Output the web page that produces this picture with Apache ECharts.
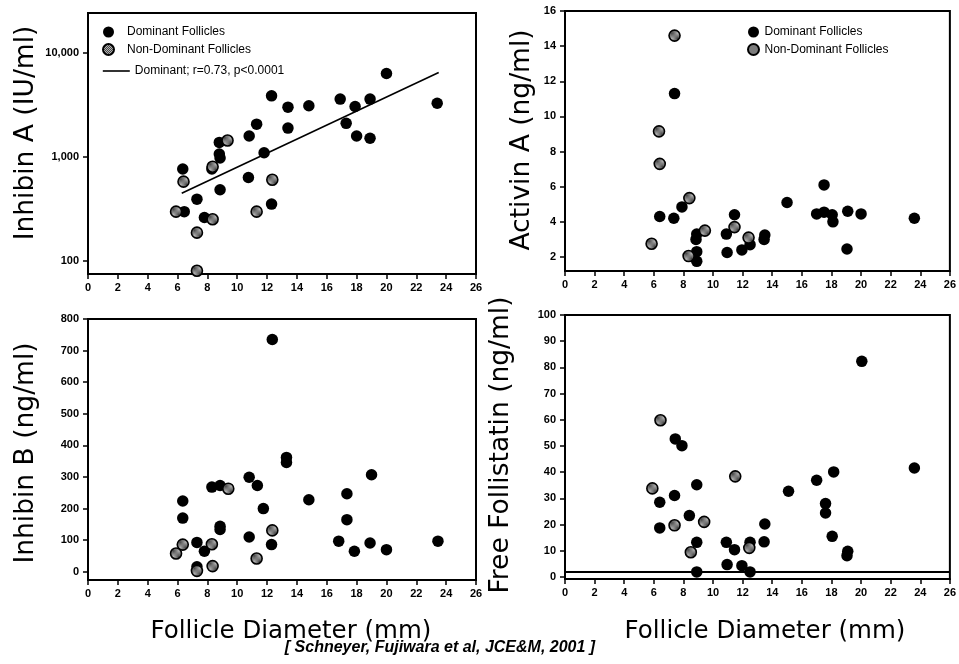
<!DOCTYPE html>
<html>
<head>
<meta charset="utf-8">
<script src="https://cdn.jsdelivr.net/npm/echarts@6/dist/echarts.min.js"></script>
<style>
  html, body { margin: 0; padding: 0; background: #fff; }
  #chart { width: 959px; height: 664px; }
</style>
</head>
<body>
<div id="chart"></div>
<script>
// Follicle diameter (mm) vs. hormone concentration, one panel per hormone.
// Each point: [diameter, concentration]

const diameterTicks = [0, 2, 4, 6, 8, 10, 12, 14, 16, 18, 20, 22, 24, 26];

// Inhibin A (IU/ml), log scale
const inhibinATicks = [100, 1000, 10000];
const inhibinADominant = [
  [20.0, 6300], [12.3, 3840], [13.4, 2990], [14.8, 3080], [16.9, 3570], [17.9, 3030],
  [18.9, 3570], [23.4, 3260], [11.3, 2050], [13.4, 1880], [17.3, 2090], [10.8, 1580],
  [18.0, 1580], [18.9, 1500], [8.8, 1370], [11.8, 1090], [8.8, 1060], [8.85, 970],
  [6.35, 760], [8.3, 760], [10.75, 630], [8.85, 480], [7.3, 390], [6.45, 296],
  [12.3, 350], [7.8, 260]
];
const inhibinANonDominant = [
  [9.35, 1430], [8.35, 800], [6.4, 575], [12.35, 600], [5.9, 296], [11.3, 296],
  [8.35, 250], [7.3, 186], [7.3, 80]
];
// regression of the dominant follicles (straight in log space)
const inhibinAFit = [[6.28, 445], [23.5, 6430]];

// Activin A (ng/ml)
const activinTicks = [2, 4, 6, 8, 10, 12, 14, 16];
const activinDominant = [
  [7.4, 11.3], [17.5, 6.1], [15.0, 5.1], [7.9, 4.85], [6.4, 4.3], [7.35, 4.2],
  [11.45, 4.4], [17.0, 4.45], [17.5, 4.55], [18.05, 4.4], [18.1, 4.0], [19.1, 4.6],
  [20.0, 4.45], [23.6, 4.2], [8.9, 3.3], [8.85, 3.0], [10.9, 3.3], [12.5, 2.7],
  [13.5, 3.25], [13.45, 3.0], [11.95, 2.4], [10.95, 2.25], [8.9, 2.3], [8.9, 1.75],
  [19.05, 2.45]
];
const activinNonDominant = [
  [7.4, 14.6], [6.35, 9.15], [6.4, 7.3], [8.4, 5.35], [11.45, 3.7], [9.45, 3.5],
  [12.4, 3.1], [5.85, 2.75], [8.35, 2.05]
];

// Inhibin B (ng/ml)
const inhibinBTicks = [0, 100, 200, 300, 400, 500, 600, 700, 800];
const inhibinBDominant = [
  [12.35, 735], [13.3, 362], [13.3, 346], [19.0, 307], [10.8, 299], [11.35, 273],
  [8.3, 268], [8.85, 273], [17.35, 247], [14.8, 228], [6.35, 224], [11.75, 200],
  [6.35, 170], [17.35, 165], [8.85, 144], [8.85, 134], [10.8, 110], [16.8, 97],
  [23.45, 97], [7.3, 93], [12.3, 86], [18.9, 91], [20.0, 70], [17.85, 65],
  [7.8, 65], [7.3, 16]
];
const inhibinBNonDominant = [
  [9.4, 263], [12.35, 131], [8.3, 87], [6.35, 86], [5.9, 58], [11.3, 42],
  [7.3, 3], [8.35, 18]
];

// Free follistatin (ng/ml)
const follistatinTicks = [0, 10, 20, 30, 40, 50, 60, 70, 80, 90, 100];
const follistatinDominant = [
  [20.05, 82.3], [7.45, 52.7], [7.9, 50.1], [23.6, 41.6], [18.15, 40.1], [17.0, 36.9],
  [8.9, 35.2], [15.1, 32.7], [7.4, 31.1], [6.4, 28.5], [17.6, 28.0], [17.6, 24.4],
  [8.4, 23.4], [13.5, 20.2], [6.4, 18.7], [18.05, 15.5], [8.9, 13.2], [10.9, 13.2],
  [12.5, 13.2], [13.45, 13.4], [11.45, 10.4], [19.1, 9.8], [19.05, 8.1], [10.95, 4.7],
  [11.95, 4.3], [8.9, 1.9], [12.5, 1.9]
];
const follistatinNonDominant = [
  [6.45, 59.8], [11.5, 38.4], [5.9, 33.8], [9.4, 21.0], [7.4, 19.7], [12.45, 11.1],
  [8.5, 9.4]
];
const follistatinAssayLimit = 2;

const DOMINANT = 'Dominant Follicles';
const NON_DOMINANT = 'Non-Dominant Follicles';
const FIT = 'Dominant; r=0.73, p<0.0001';

// fine grey checker fill for the non-dominant markers
function hatchFill() {
  const c = document.createElement('canvas');
  c.width = 2; c.height = 2;
  const g = c.getContext('2d');
  g.fillStyle = '#b4b4b4'; g.fillRect(0, 0, 2, 2);
  g.fillStyle = '#444444'; g.fillRect(0, 0, 1, 1); g.fillRect(1, 1, 1, 1);
  return { image: c, repeat: 'repeat' };
}
const hatch = hatchFill();

const tickFont = { color: '#000', fontFamily: 'Liberation Sans', fontWeight: 'bold', fontSize: 11 };

function xAxis(gridIndex) {
  return {
    type: 'value', gridIndex, min: 0, max: 26,
    axisLine: { show: true, onZero: false, lineStyle: { color: '#000', width: 2 } },
    axisTick: { show: true, length: 5, customValues: diameterTicks, lineStyle: { color: '#000', width: 1.5 } },
    axisLabel: Object.assign({ customValues: diameterTicks, margin: 8 }, tickFont),
    splitLine: { show: false }
  };
}

function yAxis(gridIndex, type, min, max, ticks, formatter) {
  const ax = {
    type, gridIndex, min, max,
    axisLine: { show: true, onZero: false, lineStyle: { color: '#000', width: 2 } },
    axisTick: { show: true, length: 5, customValues: ticks, lineStyle: { color: '#000', width: 1.5 } },
    axisLabel: Object.assign({ customValues: ticks, margin: 9 }, tickFont),
    splitLine: { show: false }
  };
  if (type === 'log') ax.logBase = 10;
  if (formatter) ax.axisLabel.formatter = formatter;
  return ax;
}

function dominant(i, data) {
  return {
    name: DOMINANT, type: 'scatter', xAxisIndex: i, yAxisIndex: i, data,
    symbol: 'circle', symbolSize: 11.5,
    itemStyle: { color: '#000', opacity: 1 }, z: 3
  };
}
function nonDominant(i, data) {
  return {
    name: NON_DOMINANT, type: 'scatter', xAxisIndex: i, yAxisIndex: i, data,
    symbol: 'circle', symbolSize: 11,
    itemStyle: { color: hatch, borderColor: '#000', borderWidth: 1.6, opacity: 1 }, z: 4
  };
}

const gridBox = { show: true, borderColor: '#000', borderWidth: 2, backgroundColor: 'transparent' };

function vTitle(text, x, y) {
  return {
    type: 'text', x, y, rotation: Math.PI / 2,
    style: { text, font: 'normal 26.5px "DejaVu Sans"', fill: '#000', align: 'center', verticalAlign: 'middle' }
  };
}
function hTitle(text, x, y) {
  return {
    type: 'text', x, y,
    style: { text, font: 'normal 24.5px "DejaVu Sans"', fill: '#000', align: 'center', verticalAlign: 'middle' }
  };
}

const legendText = { color: '#000', fontFamily: 'Liberation Sans', fontSize: 12 };

const option = {
  backgroundColor: '#fff',
  animation: false,
  grid: [
    Object.assign({ left: 88, top: 13, width: 388, height: 261 }, gridBox),
    Object.assign({ left: 565, top: 11, width: 387, height: 260 }, gridBox),
    Object.assign({ left: 88, top: 319, width: 388, height: 261 }, gridBox),
    Object.assign({ left: 565, top: 315, width: 387, height: 264 }, gridBox)
  ],
  xAxis: [xAxis(0), xAxis(1), xAxis(2), xAxis(3)],
  yAxis: [
    yAxis(0, 'log', 74.5, 24000, inhibinATicks, v => Number(v).toLocaleString('en-US')),
    yAxis(1, 'value', 1.2, 16, activinTicks),
    yAxis(2, 'value', -26, 800, inhibinBTicks),
    yAxis(3, 'value', -0.8, 100, follistatinTicks)
  ],
  legend: [
    {
      data: [DOMINANT, NON_DOMINANT], orient: 'vertical', left: 102, top: 26, padding: 0,
      itemWidth: 27, itemHeight: 11, itemGap: 5, textStyle: legendText, selectedMode: false
    },
    {
      data: [FIT], orient: 'vertical', left: 102, top: 65, padding: 0,
      itemWidth: 27, itemHeight: 11, textStyle: legendText, selectedMode: false,
      itemStyle: { opacity: 0 }, lineStyle: { color: '#000', width: 1.6, opacity: 1 }
    },
    {
      data: [DOMINANT, NON_DOMINANT], orient: 'vertical', left: 747, top: 26, padding: 0,
      itemWidth: 12, itemHeight: 11, itemGap: 5, textStyle: legendText, selectedMode: false
    }
  ],
  series: [
    dominant(0, inhibinADominant),
    nonDominant(0, inhibinANonDominant),
    {
      name: FIT, type: 'line', xAxisIndex: 0, yAxisIndex: 0, data: inhibinAFit,
      symbol: 'none', lineStyle: { color: '#000', width: 1.6 }, itemStyle: { color: '#000' }, z: 2
    },
    dominant(1, activinDominant),
    nonDominant(1, activinNonDominant),
    dominant(2, inhibinBDominant),
    nonDominant(2, inhibinBNonDominant),
    Object.assign(dominant(3, follistatinDominant), {
      markLine: {
        silent: true, symbol: 'none', label: { show: false },
        lineStyle: { color: '#000', width: 2, type: 'solid' },
        data: [{ yAxis: follistatinAssayLimit }]
      }
    }),
    nonDominant(3, follistatinNonDominant)
  ],
  graphic: [
    vTitle('Inhibin A (IU/ml)', 26, 133),
    vTitle('Activin A (ng/ml)', 522, 140),
    vTitle('Inhibin B (ng/ml)', 26, 453),
    vTitle('Free Follistatin (ng/ml)', 501, 445),
    hTitle('Follicle Diameter (mm)', 291, 632),
    hTitle('Follicle Diameter (mm)', 765, 632),
    {
      type: 'text', x: 440, y: 648,
      style: {
        text: '[ Schneyer, Fujiwara et al, JCE&M, 2001 ]',
        font: 'italic bold 16px "Liberation Sans"', fill: '#000', align: 'center', verticalAlign: 'middle'
      }
    }
  ]
};

const chart = echarts.init(document.getElementById('chart'), null, { renderer: 'canvas' });
chart.setOption(option);
</script>
</body>
</html>
